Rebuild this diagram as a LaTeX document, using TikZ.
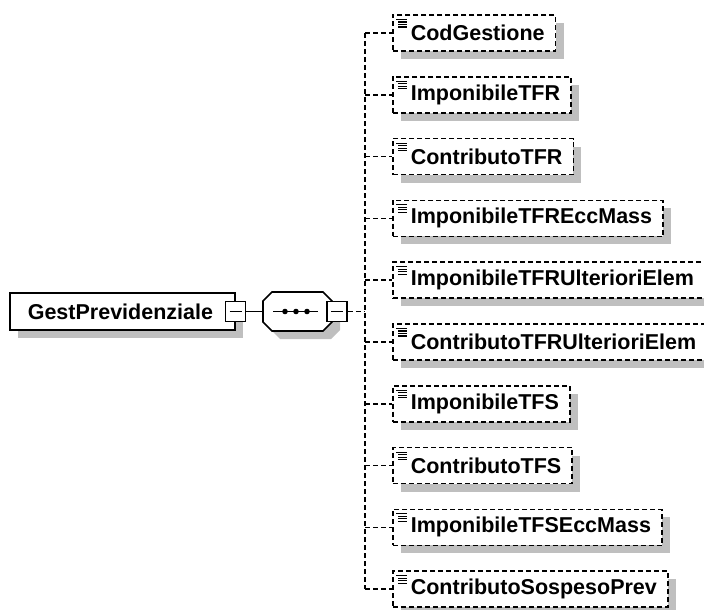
\documentclass[tikz,border=0pt]{standalone}
\usepackage{fontspec}
\setmainfont{Liberation Sans}
\usetikzlibrary{shadows}

\tikzset{
  elem/.style={draw, line width=1.6pt, fill=white, minimum height=37pt, anchor=west,
    font=\bfseries\fontsize{21.5pt}{24pt}\selectfont,
    drop shadow={shadow xshift=8pt, shadow yshift=-8pt, fill=black!25, opacity=1}},
  optelem/.style={elem, dash pattern=on 5pt off 3pt, inner xsep=11pt, minimum height=36pt},
  conn/.style={line width=1.6pt, dash pattern=on 5pt off 3pt},
  minusbox/.style={draw, line width=1.6pt, fill=white, minimum size=20pt, inner sep=0pt},
}

\begin{document}
\begin{tikzpicture}[x=1pt, y=-1pt]
    \useasboundingbox (0,0) rectangle (704,610);

    % Root element
    \node[elem, text width=189pt, align=left, inner xsep=18pt] (gest) at (9,311.5) {GestPrevidenziale};
    \node[minusbox] (gestm) at (gest.east) {};
    \draw[line width=1.6pt] ([xshift=-6pt]gestm.center) -- ([xshift=6pt]gestm.center);

    % Sequence compositor
    \draw[line width=1.6pt, fill=white,
      drop shadow={shadow xshift=8pt, shadow yshift=-8pt, fill=black!25, opacity=1}]
      (272,292) -- (323,292) -- (332,301) -- (332,322) -- (323,331) -- (272,331) -- (263,322) -- (263,301) -- cycle;
    \coordinate (seqin) at (263,311.5);
    \draw[line width=1.6pt] (273,311.5) -- (318,311.5);
    \foreach \x in {285,296,307}
      \fill (\x,311.5) circle (2.8pt);
    \node[minusbox] (seqm) at (337,311.5) {};
    \draw[line width=1.6pt] ([xshift=-6pt]seqm.center) -- ([xshift=6pt]seqm.center);
    \coordinate (jm) at (365,311.5);

    % Child elements
    \foreach \elname [count=\i] in {CodGestione, ImponibileTFR, ContributoTFR, ImponibileTFREccMass,
        ImponibileTFRUlterioriElem, ContributoTFRUlterioriElem, ImponibileTFS, ContributoTFS,
        ImponibileTFSEccMass, ContributoSospesoPrev} {
      \pgfmathsetmacro\yc{33+61.8*(\i-1)}
      \coordinate (j\i) at (365,\yc);
      \node[optelem] (c\i) at (392,\yc) {\hspace*{7pt}\elname};
      % element icon
      \draw[line width=1.1pt] (396,\yc-13.5) -- (407,\yc-13.5);
      \foreach \d in {11,8.5,6}
        \draw[line width=1.1pt] (398,\yc-\d) -- (407,\yc-\d);
    }

    % Connectors
    \draw[line width=1.6pt] (gestm.east) -- (seqin);
    \draw[conn] (seqm.east) -- (jm);
    \draw[conn] (j1) -- (j10);
    \foreach \i in {1,...,10}
      \draw[conn] (j\i) -- (c\i.west);

\end{tikzpicture}
\end{document}
